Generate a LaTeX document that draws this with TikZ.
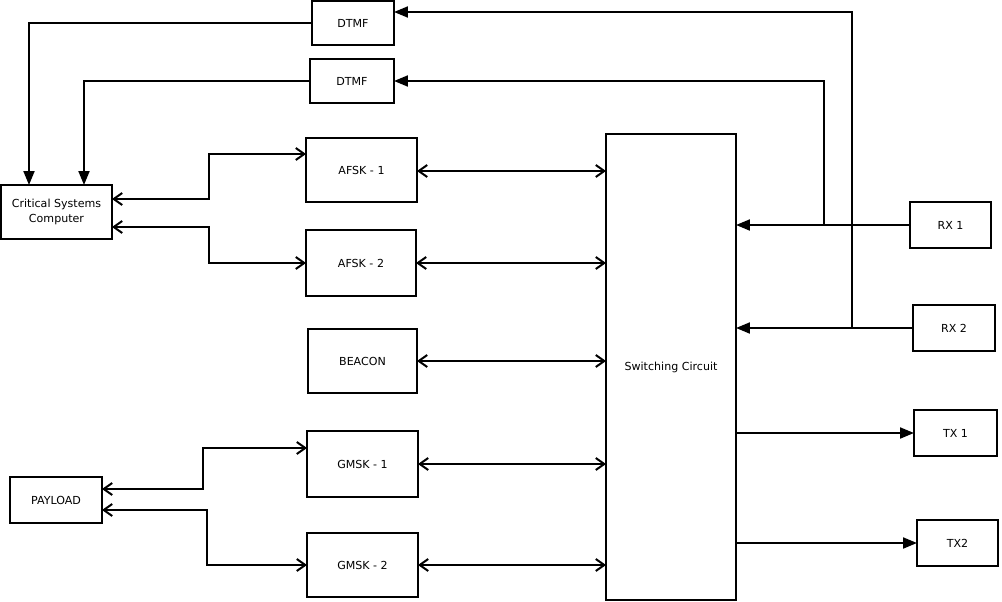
\documentclass[tikz,border=0pt]{standalone}
\usepackage{fontspec}
\setmainfont{DejaVu Sans}
\usetikzlibrary{arrows.meta}
\begin{document}
\begin{tikzpicture}[x=0.02cm,y=-0.02cm,
  line width=0.04cm,
  font=\fontsize{6.3}{8.5}\selectfont,
  blk/.style={draw,rectangle,inner sep=0pt,outer sep=0pt,align=center},
  tri/.style={-{Triangle[length=0.28cm,width=0.22cm]}},
  bib/.style={{Straight Barb[length=0.17cm,width=0.24cm]}-{Straight Barb[length=0.17cm,width=0.24cm]}}]
\useasboundingbox (0,0) rectangle (1002,602);

% blocks
\node[blk,minimum width=1.64cm,minimum height=0.88cm] (dtmf1) at (353,23) {DTMF};
\node[blk,minimum width=1.68cm,minimum height=0.88cm] (dtmf2) at (352,81) {DTMF};
\node[blk,minimum width=2.22cm,minimum height=1.28cm] (afsk1) at (361.5,170) {AFSK - 1};
\node[blk,minimum width=2.20cm,minimum height=1.32cm] (afsk2) at (361,263) {AFSK - 2};
\node[blk,minimum width=2.18cm,minimum height=1.28cm] (beacon) at (362.5,361) {BEACON};
\node[blk,minimum width=2.22cm,minimum height=1.32cm] (gmsk1) at (362.5,464) {GMSK - 1};
\node[blk,minimum width=2.22cm,minimum height=1.28cm] (gmsk2) at (362.5,565) {GMSK - 2};
\node[blk,minimum width=2.22cm,minimum height=1.08cm] (csc) at (56.5,212) {Critical Systems\\Computer};
\node[blk,minimum width=1.84cm,minimum height=0.92cm] (payload) at (56,500) {PAYLOAD};
\node[blk,minimum width=2.60cm,minimum height=9.32cm] (sw) at (671,367) {Switching Circuit};
\node[blk,minimum width=1.62cm,minimum height=0.92cm] (rx1) at (950.5,225) {RX 1};
\node[blk,minimum width=1.64cm,minimum height=0.92cm] (rx2) at (954,328) {RX 2};
\node[blk,minimum width=1.66cm,minimum height=0.92cm] (tx1) at (955.5,433) {TX 1};
\node[blk,minimum width=1.62cm,minimum height=0.92cm] (tx2) at (957.5,543) {TX2};

% DTMF outputs down to the computer
\draw[tri] (dtmf1.west) -| (csc.north -| 29,0);
\draw[tri] (dtmf2.west) -| (csc.north -| 84,0);

% receivers into the switching circuit, tapped for the DTMF decoders
\coordinate (j1) at (rx1.west -| 824,0);
\coordinate (j2) at (rx2.west -| 852,0);
\draw[tri] (rx1.west) -- (sw.east |- rx1.west);
\draw[tri] (rx2.west) -- (sw.east |- rx2.west);
\draw[tri] (j1) |- (dtmf2.east);
\draw[tri] (j2) |- (dtmf1.east |- 0,12);

% transmitters
\draw[tri] (sw.east |- tx1.west) -- (tx1.west);
\draw[tri] (sw.east |- tx2.west) -- (tx2.west);

% modems to the switching circuit
\draw[bib] (afsk1.east |- 0,171) -- (sw.west |- 0,171);
\draw[bib] (afsk2.east) -- (sw.west |- afsk2.east);
\draw[bib] (beacon.east) -- (sw.west |- beacon.east);
\draw[bib] (gmsk1.east) -- (sw.west |- gmsk1.east);
\draw[bib] (gmsk2.east) -- (sw.west |- gmsk2.east);

% computer to AFSK modems
\draw[bib] (csc.east |- 0,199) -| (209,176) |- (afsk1.west |- 0,154);
\draw[bib] (csc.east |- 0,227) -| (209,245) |- (afsk2.west);

% payload to GMSK modems
\draw[bib] (payload.east |- 0,489) -| (203,470) |- (gmsk1.west |- 0,448);
\draw[bib] (payload.east |- 0,510) -| (207,540) |- (gmsk2.west);
\end{tikzpicture}
\end{document}
